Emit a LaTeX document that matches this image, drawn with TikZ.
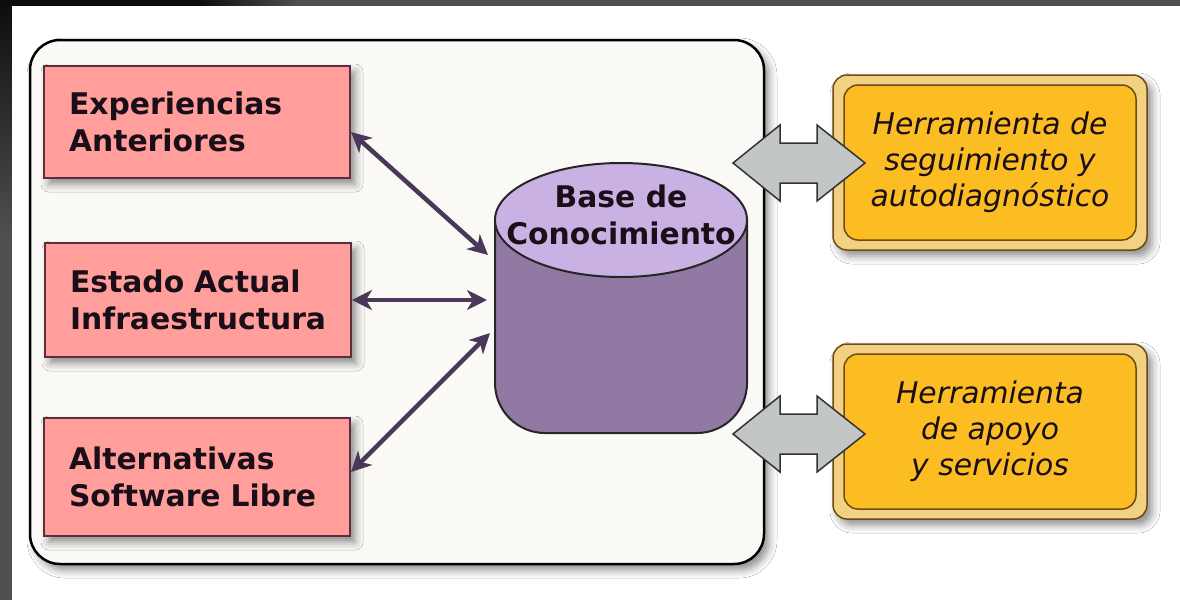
\documentclass[tikz,border=0pt]{standalone}
\usepackage{fontspec}
\setmainfont{DejaVu Sans}
\usetikzlibrary{arrows.meta,shadows.blur}

\definecolor{bggray}{HTML}{505050}
\definecolor{panel}{HTML}{FAF9F6}
\definecolor{pinkfill}{HTML}{FF9E9A}
\definecolor{pinkline}{HTML}{5A2E3E}
\definecolor{flecha}{HTML}{4A3858}
\definecolor{cyltop}{HTML}{C9B2E3}
\definecolor{cylbody}{HTML}{9279A3}
\definecolor{boxgold}{HTML}{F2D282}
\definecolor{boxyellow}{HTML}{FBBD22}
\definecolor{boxline}{HTML}{6E4A14}
\definecolor{blockgray}{HTML}{C2C6C6}
\definecolor{tinta}{HTML}{1A0E18}

\tikzset{
  sombra/.style={blur shadow={shadow xshift=5pt, shadow yshift=-6pt, shadow blur radius=8pt, shadow opacity=45}},
  caja/.style={rectangle, draw=pinkline, line width=2pt, fill=pinkfill, sombra,
    text width=256pt, inner xsep=25pt, minimum height=114pt, align=left,
    font=\fontsize{29.8}{37}\selectfont\bfseries, text=tinta},
  marco/.style={rectangle, rounded corners=14pt, draw=boxline, line width=1.5pt, fill=boxgold, sombra,
    minimum width=314pt, minimum height=175pt},
  herr/.style={rectangle, rounded corners=14pt, draw=boxline, line width=1.5pt, fill=boxyellow,
    minimum width=292pt, minimum height=155pt, align=center,
    font=\fontsize{29.8}{36}\selectfont\itshape, text=tinta},
  conn/.style={{Stealth[length=20pt,width=20pt,inset=6pt]}-{Stealth[length=20pt,width=20pt,inset=6pt]}, line width=4.5pt, draw=flecha},
  bloque/.style={draw=black!80, line width=1.5pt, fill=blockgray, line join=miter}
}

\begin{document}
\begin{tikzpicture}[x=1pt, y=-1pt]
\useasboundingbox (0,0) rectangle (1180,600);
% fondo
\fill[bggray] (0,0) rectangle (1180,600);
\fill[black!95] (0,0) rectangle (200,6);
\shade[left color=black!95, right color=bggray] (200,0) rectangle (300,6);
\shade[top color=black!95, bottom color=bggray] (0,0) rectangle (12,240);
\fill[white] (12,6) rectangle (1180,600);

\draw[line width=2.5pt, fill=panel, rounded corners=30pt, sombra] (30,40) rectangle (764,564);

\node[caja, minimum height=112pt] (exp) at (197,122) {Experiencias\\Anteriores};
\node[caja] (est) at (198,300) {Estado Actual\\Infraestructura};
\node[caja, minimum height=118pt] (alt) at (197,477) {Alternativas\\Software Libre};

% base de conocimiento
\draw[line width=2pt, draw=black!85, fill=cylbody, rounded corners=50pt] (495,220) -- (495,433) -- (747,433) -- (747,220);
\draw[line width=2pt, draw=black!85, fill=cyltop] (621,220) ellipse [x radius=126, y radius=57];
\node[align=center, font=\fontsize{29.8}{37}\selectfont\bfseries, text=tinta] (base) at (621,215) {Base de\\Conocimiento};

\coordinate (b1) at (488,255);
\coordinate (b2) at (487,300);
\coordinate (b3) at (490,333);

\draw[conn] ([yshift=-10pt]exp.east) -- (b1);
\draw[conn] (est.east) -- (b2);
\draw[conn] ([yshift=5pt]alt.east) -- (b3);

% herramientas
\node[marco] (h1) at (990,162.5) {};
\node[herr] (herr1) at (h1.center) {Herramienta de\\seguimiento y\\autodiagnóstico};
\node[marco] (h2) at (990,431.5) {};
\node[herr] (herr2) at (h2.center) {Herramienta\\de apoyo\\y servicios};

\draw[bloque] (733,163) -- (780,125) -- (780,143) -- (817,143) -- (817,125) -- (865,163)
  -- (817,201) -- (817,183) -- (780,183) -- (780,201) -- cycle;
\draw[bloque] (733,434) -- (780,396) -- (780,414) -- (817,414) -- (817,396) -- (865,434)
  -- (817,472) -- (817,454) -- (780,454) -- (780,472) -- cycle;

\end{tikzpicture}
\end{document}
